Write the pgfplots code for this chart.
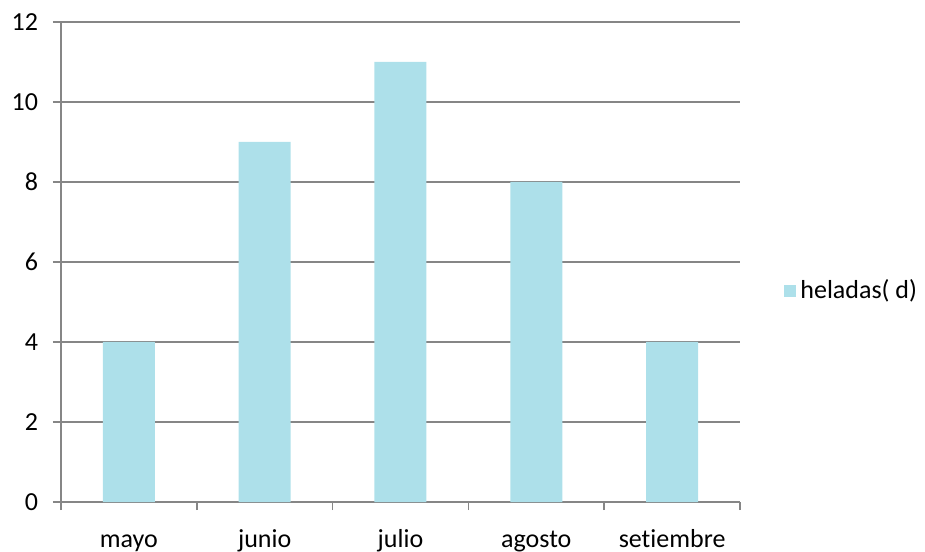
\documentclass[border=0pt]{standalone}
\usepackage{pgfplots}
\pgfplotsset{compat=1.18}
\usepackage{fontspec}
\setmainfont{Carlito}[Ligatures=NoCommon]
\definecolor{gridgray}{HTML}{868686}
\definecolor{drop}{HTML}{ADE0EA}
\begin{document}
\fontsize{13}{15}\selectfont
\begin{tikzpicture}
\path[use as bounding box] (-30.5pt,-24.5pt) rectangle (432pt,251pt);
\begin{axis}[
  scale only axis,
  width=339.5pt, height=240pt,
  at={(0,0)}, anchor=south west,
  xmin=-0.5, xmax=4.5,
  ymin=0, ymax=12,
  ytick={0,2,...,12},
  xtick={0,1,2,3,4},
  xticklabels={mayo,junio,julio,agosto,setiembre},
  minor xtick={-0.5,0.5,1.5,2.5,3.5,4.5},
  axis lines=left,
  axis line style={-, draw=gridgray, line width=0.8pt},
  ymajorgrids,
  major grid style={draw=gridgray, line width=0.8pt},
  tick align=outside,
  major tick length=4pt,
  minor tick length=4pt,
  x tick style={draw=none},
  minor x tick style={draw=gridgray, line width=0.8pt},
  y tick style={draw=gridgray, line width=0.8pt},
  tick label style={font=\fontsize{13}{15}\selectfont},
  /pgf/number format/assume math mode=true,
  yticklabel style={xshift=-3pt},
  xticklabel style={text height=9pt, text depth=3pt, yshift=-5pt},
  ybar, bar width=26pt,
  legend style={at={(1.056,0.44)}, anchor=west, draw=none, fill=none,
    font=\fontsize{13}{15}\selectfont},
  legend image code/.code={\fill[drop] (0pt,-3pt) rectangle (6pt,3pt);},
]
\addplot[fill=drop, draw=none] coordinates {(0,4) (1,9) (2,11) (3,8) (4,4)};
\addlegendentry{heladas( d)}
\end{axis}
\end{tikzpicture}
\end{document}
